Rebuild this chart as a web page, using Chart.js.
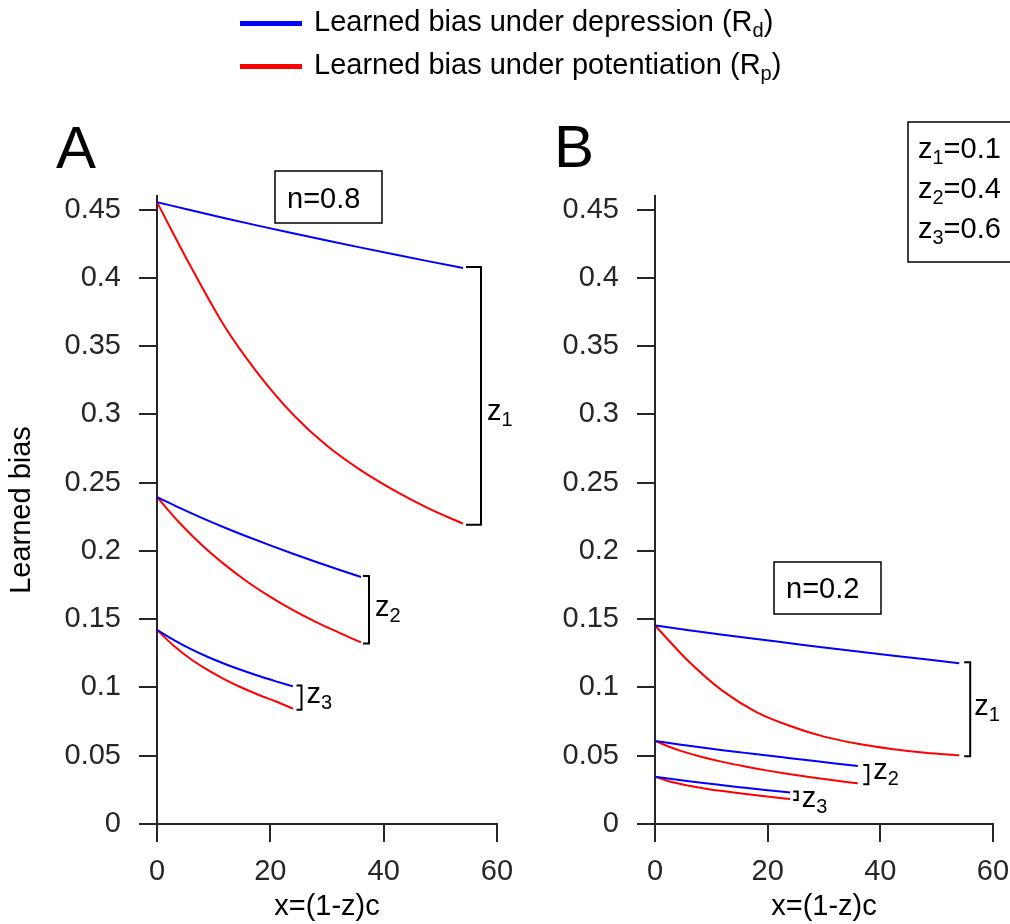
<!DOCTYPE html>
<html>
<head>
<meta charset="utf-8">
<script src="https://cdn.jsdelivr.net/npm/chart.js@4"></script>
<style>
  body { margin: 0; width: 1010px; height: 924px; position: relative; overflow: hidden; background: #fff;
         font-family: "Liberation Sans", Arial, sans-serif; }
  #legend { position: absolute; left: 240px; top: 0; font-size: 29px; color: #000; z-index: 2; }
  .item { position: absolute; left: 0; white-space: nowrap; height: 40px; line-height: 40px; }
  .swatch { display: inline-block; width: 62px; height: 5px; vertical-align: middle; margin-right: 12px; }
  .item sub { font-size: 20px; vertical-align: -6px; line-height: 0; }
  #cA { position: absolute; left: 0; top: 0; }
  #cB { position: absolute; left: 540px; top: 0; }
</style>
</head>
<body>
<div id="legend">
  <div class="item" style="top:1px"><span class="swatch" style="background:#0000ff"></span>Learned bias under depression (R<sub>d</sub>)</div>
  <div class="item" style="top:44px"><span class="swatch" style="background:#ff0000"></span>Learned bias under potentiation (R<sub>p</sub>)</div>
</div>
<canvas id="cA" width="560" height="924"></canvas>
<canvas id="cB" width="540" height="924"></canvas>
<script>
// x = (1-z)c for the three z values
const xZ1 = [0, 6, 12, 18, 24, 30, 36, 42, 48, 54];
const xZ2 = [0, 4, 8, 12, 16, 20, 24, 28, 32, 36];
const xZ3 = [0, 3, 6, 9, 12, 15, 18, 21, 24];

// panel A, n = 0.8
const depA1 = [0.4555, 0.4495, 0.4437, 0.4381, 0.4327, 0.4274, 0.4222, 0.4171, 0.4121, 0.4072];
const potA1 = [0.4555, 0.408, 0.364, 0.329, 0.300, 0.277, 0.259, 0.244, 0.231, 0.220];
const depA2 = [0.2395, 0.2315, 0.2240, 0.2170, 0.2104, 0.2041, 0.1980, 0.1921, 0.1864, 0.1809];
const potA2 = [0.2395, 0.2205, 0.2040, 0.1898, 0.1773, 0.1663, 0.1566, 0.1481, 0.1404, 0.1330];
const depA3 = [0.1422, 0.1347, 0.1281, 0.1223, 0.1172, 0.1126, 0.1084, 0.1045, 0.1008];
const potA3 = [0.1422, 0.1304, 0.1207, 0.1127, 0.1058, 0.0998, 0.0945, 0.0897, 0.0845];

// panel B, n = 0.2
const depB1 = [0.1454, 0.1420, 0.1387, 0.1355, 0.1324, 0.1293, 0.1263, 0.1234, 0.1206, 0.1178];
const potB1 = [0.1454, 0.1190, 0.0975, 0.0820, 0.0718, 0.0640, 0.0588, 0.0550, 0.0522, 0.0503];
const depB2 = [0.0608, 0.0584, 0.0562, 0.0541, 0.0521, 0.0501, 0.0482, 0.0463, 0.0444, 0.0425];
const potB2 = [0.0608, 0.0543, 0.0495, 0.0455, 0.0421, 0.0391, 0.0364, 0.0340, 0.0318, 0.0298];
const depB3 = [0.0347, 0.0329, 0.0313, 0.0298, 0.0284, 0.0270, 0.0256, 0.0243, 0.0230];
const potB3 = [0.0347, 0.0307, 0.0280, 0.0259, 0.0241, 0.0225, 0.0210, 0.0196, 0.0183];

const xTicks = [0, 20, 40, 60];
const yTicks = [0, 0.05, 0.1, 0.15, 0.2, 0.25, 0.3, 0.35, 0.4, 0.45];
const zValues = ['0.1', '0.4', '0.6'];

const FONT = '"Liberation Sans", Arial, sans-serif';
const AXIS = '#262626';
const BLUE = '#0000ff', RED = '#ff0000';

// z with a subscript, then optional plain text
function drawSubText(ctx, main, sub, rest, x, base) {
  ctx.font = '29px ' + FONT;
  ctx.fillText(main, x, base);
  x += ctx.measureText(main).width;
  ctx.font = '20px ' + FONT;
  ctx.fillText(sub, x, base + 6);
  x += ctx.measureText(sub).width;
  if (rest) {
    ctx.font = '29px ' + FONT;
    ctx.fillText(rest, x, base);
  }
}

const panelDecor = {
  id: 'panelDecor',
  afterDraw(chart, args, o) {
    const { ctx } = chart;
    const xs = chart.scales.x, ys = chart.scales.y;
    const dx = o.offsetX;
    ctx.save();
    ctx.fillStyle = '#000';
    ctx.strokeStyle = '#000';
    ctx.textBaseline = 'alphabetic';

    ctx.font = '60px ' + FONT;
    ctx.fillText(o.letter, o.letterX - dx, o.letterY);

    o.boxes.forEach(b => {
      ctx.lineWidth = 1.5;
      ctx.strokeRect(b.x - dx, b.y, b.w, b.h);
      b.lines.forEach((ln, i) => {
        if (ln.sub) drawSubText(ctx, ln.main, ln.sub, ln.rest, b.tx - dx, b.ty + i * b.lh);
        else { ctx.font = '29px ' + FONT; ctx.fillText(ln.main, b.tx - dx, b.ty); }
      });
    });

    // brackets between end of R_d and R_p
    ctx.lineWidth = 2;
    o.groups.forEach(g => {
      const last = g.xs.length - 1;
      const xe = xs.getPixelForValue(g.xs[last]);
      const yt = ys.getPixelForValue(g.dep[last]) - 1;
      const yb = ys.getPixelForValue(g.pot[last]) + 1;
      const xv = xe + g.gap;
      ctx.beginPath();
      ctx.moveTo(xv - g.serif, yt);
      ctx.lineTo(xv, yt);
      ctx.lineTo(xv, yb);
      ctx.lineTo(xv - g.serif, yb);
      ctx.stroke();
      drawSubText(ctx, 'z', g.sub, '', xv + g.lgap, (yt + yb) / 2 + 7.5 + g.dy);
    });
    ctx.restore();
  }
};

function makePanel(id, groups, decor, yWidth, padRight, showTitle) {
  const datasets = [];
  groups.forEach(g => {
    datasets.push({ label: 'R_d z' + g.sub, data: g.xs.map((x, i) => ({ x, y: g.dep[i] })), borderColor: BLUE });
    datasets.push({ label: 'R_p z' + g.sub, data: g.xs.map((x, i) => ({ x, y: g.pot[i] })), borderColor: RED });
  });
  datasets.forEach(d => Object.assign(d, {
    borderWidth: 2, pointRadius: 0, fill: false, cubicInterpolationMode: 'monotone'
  }));

  const tickFont = { family: FONT, size: 29 };
  return new Chart(document.getElementById(id), {
    type: 'line',
    data: { datasets },
    options: {
      responsive: false,
      animation: false,
      layout: { padding: { left: 0, top: 196, right: padRight, bottom: 0 } },
      plugins: {
        legend: { display: false },
        tooltip: { enabled: false },
        panelDecor: Object.assign({ groups }, decor)
      },
      scales: {
        x: {
          type: 'linear', min: 0, max: 60,
          afterBuildTicks: s => { s.ticks = xTicks.map(v => ({ value: v })); },
          afterFit: s => { s.height = 100; },
          ticks: { font: tickFont, color: AXIS, padding: 13, maxRotation: 0 },
          grid: { drawOnChartArea: false, tickLength: 18, color: AXIS, lineWidth: 2 },
          border: { display: true, color: AXIS, width: 2 },
          title: { display: true, text: 'x=(1-z)c', font: tickFont, color: '#000', padding: 0 }
        },
        y: {
          type: 'linear', min: 0, max: 0.46,
          afterBuildTicks: s => { s.ticks = yTicks.map(v => ({ value: v })); },
          afterFit: s => { s.width = yWidth; },
          ticks: { font: tickFont, color: AXIS, padding: 18, callback: v => String(+v.toFixed(2)) },
          grid: { drawOnChartArea: false, tickLength: 18, color: AXIS, lineWidth: 2 },
          border: { display: true, color: AXIS, width: 2 },
          title: { display: showTitle, text: 'Learned bias', font: tickFont, color: '#000', padding: { top: 5, bottom: 0 } }
        }
      }
    },
    plugins: [panelDecor]
  });
}

makePanel('cA', [
  { xs: xZ1, dep: depA1, pot: potA1, sub: '1', gap: 18, serif: 15, lgap: 6, dy: 17 },
  { xs: xZ2, dep: depA2, pot: potA2, sub: '2', gap: 8, serif: 6, lgap: 6, dy: -1.5 },
  { xs: xZ3, dep: depA3, pot: potA3, sub: '3', gap: 8.5, serif: 5, lgap: 5, dy: -2 }
], {
  offsetX: 0, letter: 'A', letterX: 56, letterY: 168,
  boxes: [{ x: 275, y: 171, w: 107, h: 52, tx: 287, ty: 208, lh: 0, lines: [{ main: 'n=0.8' }] }]
}, 157, 63, true);

// canvas B starts at page x 540 and runs past the right edge; plot right edge at page x 993
makePanel('cB', [
  { xs: xZ1, dep: depB1, pot: potB1, sub: '1', gap: 11, serif: 6, lgap: 4, dy: -2 },
  { xs: xZ2, dep: depB2, pot: potB2, sub: '2', gap: 10.5, serif: 5, lgap: 5, dy: -3 },
  { xs: xZ3, dep: depB3, pot: potB3, sub: '3', gap: 7.5, serif: 4.5, lgap: 4, dy: 4 }
], {
  offsetX: 540, letter: 'B', letterX: 554, letterY: 167,
  boxes: [
    { x: 774, y: 562, w: 107, h: 52, tx: 786, ty: 598, lh: 0, lines: [{ main: 'n=0.2' }] },
    { x: 908, y: 122, w: 120, h: 140, tx: 918, ty: 158, lh: 40,
      lines: zValues.map((v, i) => ({ main: 'z', sub: String(i + 1), rest: '=' + v })) }
  ]
}, 115, 540 - (993 - 540), false);
</script>
</body>
</html>
